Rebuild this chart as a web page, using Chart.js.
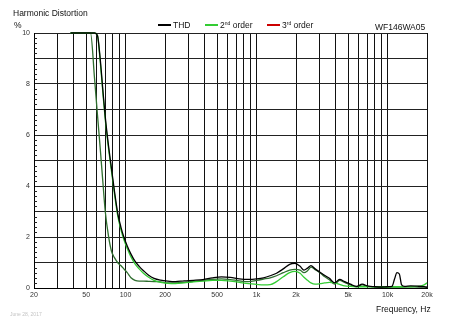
<!DOCTYPE html>
<html>
<head>
<meta charset="utf-8">
<script src="https://cdn.jsdelivr.net/npm/chart.js@4.4.1/dist/chart.umd.min.js"></script>
<style>
  html, body { margin: 0; padding: 0; background: #fff; }
  #wrap { position: relative; width: 464px; height: 329px; font-family: "Liberation Sans", Arial, sans-serif; color: #111; }
  #wrap canvas { position: absolute; left: 0; top: 0; }
  .txt { position: absolute; font-size: 8.5px; white-space: nowrap; line-height: 1; }
  .leg { position: absolute; top: 21px; font-size: 8.5px; white-space: nowrap; line-height: 1; }
  .leg i { display: inline-block; width: 13px; height: 2px; vertical-align: middle; margin-right: 2px; position: relative; top: -1px; }
  .leg sup { font-size: 5px; vertical-align: 3px; }
</style>
</head>
<body>
<div id="wrap">
  <canvas id="hd" width="464" height="329"></canvas>
  <div class="txt" style="left:13px;top:9px;">Harmonic Distortion</div>
  <div class="txt" style="left:14px;top:21px;">%</div>
  <div class="leg" style="left:158px;"><i style="background:#000"></i>THD</div>
  <div class="leg" style="left:205px;"><i style="background:#33cc33"></i>2<sup>nd</sup> order</div>
  <div class="leg" style="left:267px;"><i style="background:#cc0000"></i>3<sup>rd</sup> order</div>
  <div class="txt" style="left:375px;top:23px;">WF146WA05</div>
  <div class="txt" style="left:376px;top:305px;">Frequency, Hz</div>
  <div class="txt" style="left:10px;top:312px;font-size:5px;color:#c4c4c4;">June 28, 2017</div>
</div>
<script>
// measurement frequencies, Hz
const freqs = [38, 45, 50, 54, 58, 61, 64, 67, 70, 74, 78, 82, 87, 92, 97, 103, 110, 118, 127, 137,
  150, 165, 185, 210, 240, 280, 330, 390, 460, 540, 630, 740, 870, 1000, 1130, 1270, 1420, 1600,
  1790, 1960, 2150, 2300, 2450, 2600, 2800, 3050, 3300, 3600, 3950, 4300, 4700, 5200, 5800, 6400,
  7100, 8000, 9000, 10000, 10800, 11300, 11800, 12300, 12800, 13500, 15000, 17000, 19000, 20000];

// distortion, %
const thd = [10, 10, 10, 10, 10, 9.9, 9.0, 7.8, 6.7, 5.6, 4.7, 3.85, 2.95, 2.4, 2.0, 1.65, 1.33, 1.05, 0.85, 0.68,
  0.5, 0.38, 0.31, 0.27, 0.25, 0.28, 0.3, 0.33, 0.4, 0.44, 0.42, 0.36, 0.34, 0.36, 0.4, 0.48, 0.58, 0.75,
  0.93, 0.97, 0.85, 0.7, 0.78, 0.88, 0.75, 0.62, 0.5, 0.38, 0.2, 0.34, 0.25, 0.15, 0.06, 0.15,
  0.07, 0.05, 0.04, 0.05, 0.06, 0.35, 0.6, 0.55, 0.12, 0.06, 0.08, 0.07, 0.05, 0.03];

const h2 = [10, 10, 10, 10, 10, 9.9, 8.9, 7.7, 6.6, 5.5, 4.6, 3.75, 2.85, 2.3, 1.9, 1.55, 1.22, 0.95, 0.75, 0.58,
  0.42, 0.3, 0.22, 0.18, 0.17, 0.2, 0.24, 0.27, 0.3, 0.3, 0.27, 0.22, 0.17, 0.14, 0.12, 0.13, 0.25, 0.44,
  0.6, 0.65, 0.58, 0.42, 0.3, 0.2, 0.15, 0.17, 0.2, 0.22, 0.2, 0.14, 0.08, 0.06, 0.05, 0.05,
  0.05, 0.05, 0.05, 0.05, 0.05, 0.05, 0.05, 0.05, 0.05, 0.05, 0.05, 0.06, 0.12, 0.2];

const h3 = [10, 10, 10, 10, 8.2, 6.8, 5.5, 4.2, 3.0, 2.05, 1.45, 1.2, 1.0, 0.88, 0.75, 0.6, 0.4, 0.3, 0.27, 0.27,
  0.26, 0.25, 0.24, 0.2, 0.2, 0.22, 0.26, 0.3, 0.34, 0.36, 0.33, 0.28, 0.25, 0.3, 0.35, 0.4, 0.48, 0.6,
  0.7, 0.73, 0.7, 0.6, 0.68, 0.82, 0.72, 0.6, 0.45, 0.32, 0.15, 0.3, 0.22, 0.12, 0.05, 0.12,
  0.06, 0.04, 0.03, 0.03, 0.04, 0.04, 0.04, 0.04, 0.04, 0.04, 0.05, 0.04, 0.04, 0.03];

// x grid lines and which of them carry a label
const xGrid = [20, 30, 40, 50, 60, 70, 80, 90, 100, 200, 300, 400, 500, 600, 700, 800, 900,
  1000, 2000, 3000, 4000, 5000, 6000, 7000, 8000, 9000, 10000, 20000];
const xLabels = { 20: '20', 50: '50', 100: '100', 200: '200', 500: '500', 1000: '1k', 2000: '2k', 5000: '5k', 10000: '10k', 20000: '20k' };

function pts(vals) {
  return freqs.map((f, i) => ({ x: f, y: vals[i] }));
}

// little ticks every 0.2 % along the inside of the left axis
const minorTicks = {
  id: 'minorTicks',
  afterDraw(chart) {
    const ctx = chart.ctx, y = chart.scales.y, left = chart.chartArea.left;
    ctx.save();
    ctx.strokeStyle = '#222';
    ctx.lineWidth = 1;
    for (let v = 0; v <= 10.001; v += 0.2) {
      if (Math.abs(v - Math.round(v)) < 0.01) continue;
      const py = Math.round(y.getPixelForValue(v)) + 0.5;
      ctx.beginPath();
      ctx.moveTo(left, py);
      ctx.lineTo(left + 3, py);
      ctx.stroke();
    }
    ctx.restore();
  }
};

// lines sitting on the 10 % limit stay visible on top of the frame
const line = { fill: false, pointRadius: 0, borderWidth: 1.3, cubicInterpolationMode: 'monotone', clip: 2 };

new Chart(document.getElementById('hd'), {
  type: 'line',
  data: {
    datasets: [
      Object.assign({ label: 'THD', data: pts(thd), borderColor: '#000' }, line),
      Object.assign({ label: '2nd order', data: pts(h2), borderColor: '#33cc33' }, line),
      Object.assign({ label: '3rd order', data: pts(h3), borderColor: '#2f6e2f' }, line)
    ]
  },
  options: {
    responsive: false,
    animation: false,
    layout: { padding: { top: 33, right: 37, left: 0, bottom: 0 } },
    plugins: { legend: { display: false }, tooltip: { enabled: false } },
    scales: {
      x: {
        type: 'logarithmic',
        min: 20,
        max: 20000,
        afterBuildTicks(scale) { scale.ticks = xGrid.map(v => ({ value: v })); },
        afterFit(scale) { scale.height = 41; },
        ticks: {
          autoSkip: false,
          maxRotation: 0,
          padding: 3,
          color: '#333',
          font: { family: 'Liberation Sans', size: 7 },
          callback: (v) => xLabels[v] || ''
        },
        grid: { color: '#111', lineWidth: 1, drawTicks: false },
        border: { color: '#000' }
      },
      y: {
        min: 0,
        max: 10,
        afterFit(scale) { scale.width = 34; },
        ticks: {
          stepSize: 1,
          padding: 4,
          color: '#333',
          font: { family: 'Liberation Sans', size: 7 },
          callback: (v) => (v % 2 === 0 ? String(v) : '')
        },
        grid: { color: '#222', lineWidth: 1, drawTicks: false },
        border: { color: '#000' }
      }
    }
  },
  plugins: [minorTicks]
});
</script>
</body>
</html>
